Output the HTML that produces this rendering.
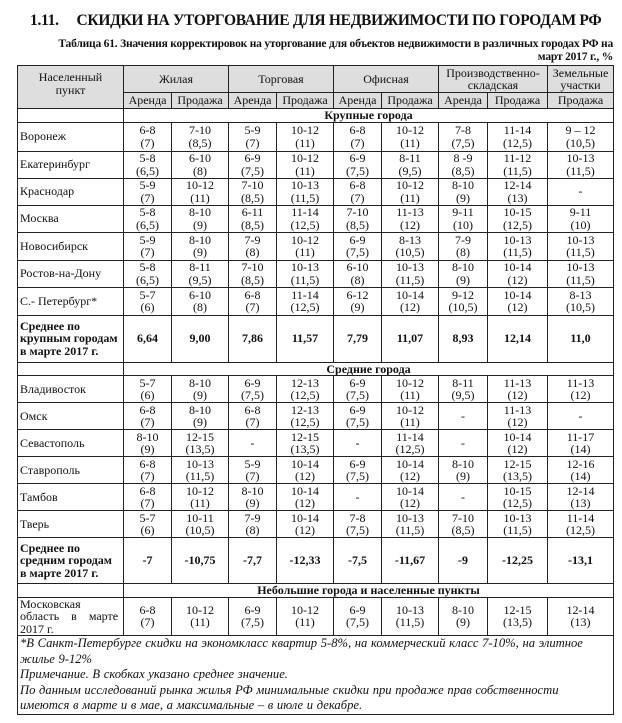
<!DOCTYPE html>
<html><head><meta charset="utf-8"><style>
body{margin:0;width:622px;height:723px;background:#fff;font-family:"Liberation Serif","DejaVu Serif",serif;color:#111;position:relative;overflow:hidden}
.t1{position:absolute;left:30px;top:12px;font-size:15.5px;font-weight:bold;letter-spacing:-0.3px;white-space:nowrap}
.t2{position:absolute;left:17px;top:38px;width:596px;font-size:11.5px;font-weight:bold;line-height:13px;text-align:right;letter-spacing:-0.2px}
table{position:absolute;left:17px;top:65px;border-collapse:collapse;table-layout:fixed;font-size:12px}
td{border:1px solid #222;padding:0;text-align:center;vertical-align:middle;line-height:12.5px;overflow:hidden}
.h td{background:#dedede}
td.l{text-align:left;padding-left:2px}
.b{font-weight:bold}
.note{font-style:italic;text-align:justify;padding:0 2px!important;line-height:15.5px;vertical-align:top;font-size:12.6px;word-spacing:0.5px}
</style></head><body>
<div class="t1">1.11.&nbsp;&nbsp;&nbsp;&nbsp;&nbsp;СКИДКИ НА УТОРГОВАНИЕ ДЛЯ НЕДВИЖИМОСТИ ПО ГОРОДАМ РФ</div>
<div class="t2">Таблица 61. Значения корректировок на уторгование для объектов недвижимости в различных городах РФ на<br>март 2017 г., %</div>
<table>
<colgroup><col style="width:106px"><col style="width:48px"><col style="width:57px"><col style="width:48px"><col style="width:57px"><col style="width:48px"><col style="width:57px"><col style="width:49px"><col style="width:60px"><col style="width:66px"></colgroup>
<tr class="h" style="height:27px"><td rowspan="2" style="vertical-align:top;padding-top:5px">Населенный<br>пункт</td><td colspan="2">Жилая</td><td colspan="2">Торговая</td><td colspan="2">Офисная</td><td colspan="2">Производственно-<br>складская</td><td>Земельные<br>участки</td></tr>
<tr class="h" style="height:16px"><td>Аренда</td><td>Продажа</td><td>Аренда</td><td>Продажа</td><td>Аренда</td><td>Продажа</td><td>Аренда</td><td>Продажа</td><td>Продажа</td></tr>
<tr style="height:11px"><td></td><td colspan="9" class="b">Крупные города</td></tr>
<tr style="height:29px"><td class="l">Воронеж</td><td>6-8<br>(7)</td><td>7-10<br>(8,5)</td><td>5-9<br>(7)</td><td>10-12<br>(11)</td><td>6-8<br>(7)</td><td>10-12<br>(11)</td><td>7-8<br>(7,5)</td><td>11-14<br>(12,5)</td><td>9 – 12<br>(10,5)</td></tr>
<tr style="height:27px"><td class="l">Екатеринбург</td><td>5-8<br>(6,5)</td><td>6-10<br>(8)</td><td>6-9<br>(7,5)</td><td>10-12<br>(11)</td><td>6-9<br>(7,5)</td><td>8-11<br>(9,5)</td><td>8 -9<br>(8,5)</td><td>11-12<br>(11,5)</td><td>10-13<br>(11,5)</td></tr>
<tr style="height:27px"><td class="l">Краснодар</td><td>5-9<br>(7)</td><td>10-12<br>(11)</td><td>7-10<br>(8,5)</td><td>10-13<br>(11,5)</td><td>6-8<br>(7)</td><td>10-12<br>(11)</td><td>8-10<br>(9)</td><td>12-14<br>(13)</td><td>-</td></tr>
<tr style="height:27px"><td class="l">Москва</td><td>5-8<br>(6,5)</td><td>8-10<br>(9)</td><td>6-11<br>(8,5)</td><td>11-14<br>(12,5)</td><td>7-10<br>(8,5)</td><td>11-13<br>(12)</td><td>9-11<br>(10)</td><td>10-15<br>(12,5)</td><td>9-11<br>(10)</td></tr>
<tr style="height:28px"><td class="l">Новосибирск</td><td>5-9<br>(7)</td><td>8-10<br>(9)</td><td>7-9<br>(8)</td><td>10-12<br>(11)</td><td>6-9<br>(7,5)</td><td>8-13<br>(10,5)</td><td>7-9<br>(8)</td><td>10-13<br>(11,5)</td><td>10-13<br>(11,5)</td></tr>
<tr style="height:27px"><td class="l">Ростов-на-Дону</td><td>5-8<br>(6,5)</td><td>8-11<br>(9,5)</td><td>7-10<br>(8,5)</td><td>10-13<br>(11,5)</td><td>6-10<br>(8)</td><td>10-13<br>(11,5)</td><td>8-10<br>(9)</td><td>10-14<br>(12)</td><td>10-13<br>(11,5)</td></tr>
<tr style="height:28px"><td class="l">С.- Петербург*</td><td>5-7<br>(6)</td><td>6-10<br>(8)</td><td>6-8<br>(7)</td><td>11-14<br>(12,5)</td><td>6-12<br>(9)</td><td>10-14<br>(12)</td><td>9-12<br>(10,5)</td><td>10-14<br>(12)</td><td>8-13<br>(10,5)</td></tr>
<tr style="height:47px" class="b"><td class="l">Среднее по<br>крупным городам<br>в марте 2017 г.</td><td>6,64</td><td>9,00</td><td>7,86</td><td>11,57</td><td>7,79</td><td>11,07</td><td>8,93</td><td>12,14</td><td>11,0</td></tr>
<tr style="height:11px"><td></td><td colspan="9" class="b">Средние города</td></tr>
<tr style="height:27px"><td class="l">Владивосток</td><td>5-7<br>(6)</td><td>8-10<br>(9)</td><td>6-9<br>(7,5)</td><td>12-13<br>(12,5)</td><td>6-9<br>(7,5)</td><td>10-12<br>(11)</td><td>8-11<br>(9,5)</td><td>11-13<br>(12)</td><td>11-13<br>(12)</td></tr>
<tr style="height:27px"><td class="l">Омск</td><td>6-8<br>(7)</td><td>8-10<br>(9)</td><td>6-8<br>(7)</td><td>12-13<br>(12,5)</td><td>6-9<br>(7,5)</td><td>10-12<br>(11)</td><td>-</td><td>11-13<br>(12)</td><td>-</td></tr>
<tr style="height:27px"><td class="l">Севастополь</td><td>8-10<br>(9)</td><td>12-15<br>(13,5)</td><td>-</td><td>12-15<br>(13,5)</td><td>-</td><td>11-14<br>(12,5)</td><td>-</td><td>10-14<br>(12)</td><td>11-17<br>(14)</td></tr>
<tr style="height:27px"><td class="l">Ставрополь</td><td>6-8<br>(7)</td><td>10-13<br>(11,5)</td><td>5-9<br>(7)</td><td>10-14<br>(12)</td><td>6-9<br>(7,5)</td><td>10-14<br>(12)</td><td>8-10<br>(9)</td><td>12-15<br>(13,5)</td><td>12-16<br>(14)</td></tr>
<tr style="height:27px"><td class="l">Тамбов</td><td>6-8<br>(7)</td><td>10-12<br>(11)</td><td>8-10<br>(9)</td><td>10-14<br>(12)</td><td>-</td><td>10-14<br>(12)</td><td>-</td><td>10-15<br>(12,5)</td><td>12-14<br>(13)</td></tr>
<tr style="height:27px"><td class="l">Тверь</td><td>5-7<br>(6)</td><td>10-11<br>(10,5)</td><td>7-9<br>(8)</td><td>10-14<br>(12)</td><td>7-8<br>(7,5)</td><td>10-13<br>(11,5)</td><td>7-10<br>(8,5)</td><td>10-13<br>(11,5)</td><td>11-14<br>(12,5)</td></tr>
<tr style="height:46px" class="b"><td class="l">Среднее по<br>средним городам<br>в марте 2017 г.</td><td>-7</td><td>-10,75</td><td>-7,7</td><td>-12,33</td><td>-7,5</td><td>-11,67</td><td>-9</td><td>-12,25</td><td>-13,1</td></tr>
<tr style="height:12px"><td></td><td colspan="9" class="b">Небольшие города и населенные пункты</td></tr>
<tr style="height:38px"><td class="l">Московская<br>область&nbsp;&nbsp;&nbsp;&nbsp;в&nbsp;&nbsp;&nbsp;&nbsp;марте<br>2017 г.</td><td>6-8<br>(7)</td><td>10-12<br>(11)</td><td>6-9<br>(7,5)</td><td>10-12<br>(11)</td><td>6-9<br>(7,5)</td><td>10-13<br>(11,5)</td><td>8-10<br>(9)</td><td>12-15<br>(13,5)</td><td>12-14<br>(13)</td></tr>
<tr style="height:78px"><td colspan="10" class="note">*В Санкт-Петербурге скидки на экономкласс квартир 5-8%, на коммерческий класс 7-10%, на элитное<br>жилье 9-12%<br>Примечание. В скобках указано среднее значение.<br>По данным исследований рынка жилья РФ минимальные скидки при продаже прав собственности<br>имеются в марте и в мае, а максимальные – в июле и декабре.</td></tr>
</table>
</body></html>
